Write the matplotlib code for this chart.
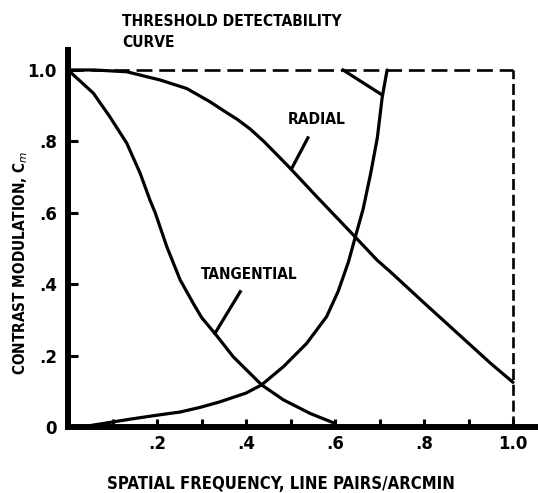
import matplotlib
matplotlib.use("Agg")
import matplotlib.pyplot as plt

# curve data (spatial frequency, contrast modulation)
radial_x = [0, 0.06, 0.132, 0.207, 0.267, 0.319, 0.357, 0.38, 0.409, 0.44, 0.47, 0.499, 0.559, 0.641, 0.694,
            0.724, 0.798, 0.873, 0.948, 1.0]
radial_y = [1.0, 1.0, 0.995, 0.972, 0.948, 0.911, 0.88, 0.862, 0.835, 0.80, 0.762, 0.725, 0.645, 0.538, 0.468,
            0.435, 0.35, 0.265, 0.18, 0.125]

tang_x = [0, 0.057, 0.094, 0.132, 0.162, 0.184, 0.196, 0.222, 0.252, 0.282, 0.30, 0.334, 0.371, 0.435, 0.484, 0.544, 0.596]
tang_y = [1.0, 0.935, 0.869, 0.795, 0.711, 0.636, 0.60, 0.505, 0.412, 0.345, 0.307, 0.256, 0.197, 0.118, 0.076, 0.038, 0.012]

thresh_x = [0.03, 0.08, 0.14, 0.194, 0.252, 0.297, 0.34, 0.371, 0.40, 0.435, 0.484, 0.536, 0.581, 0.607,
            0.630, 0.645, 0.663, 0.68, 0.695, 0.706, 0.717]
thresh_y = [0.0, 0.01, 0.022, 0.032, 0.042, 0.055, 0.07, 0.083, 0.095, 0.118, 0.169, 0.234, 0.309, 0.38,
            0.462, 0.53, 0.61, 0.71, 0.81, 0.924, 1.0]

# leader lines from labels to curves
radial_leader = ([0.539, 0.503], [0.81, 0.725])
tang_leader = ([0.387, 0.330], [0.379, 0.262])
thresh_leader = ([0.618, 0.706], [1.0, 0.93])

x_ticks = [0.2, 0.4, 0.6, 0.8, 1.0]
x_ticklabels = ['.2', '.4', '.6', '.8', '1.0']
x_minor = [0.1, 0.3, 0.5, 0.7, 0.9]
y_ticks = [0, 0.2, 0.4, 0.6, 0.8, 1.0]
y_ticklabels = ['0', '.2', '.4', '.6', '.8', '1.0']

lbl_font = dict(family='DejaVu Sans', stretch='condensed', weight='bold')

fig = plt.figure(figsize=(5.38, 4.93), dpi=100)
ax = fig.add_axes([68 / 538, 66 / 493, 470 / 538, 377 / 493])
ax.set_xlim(0, 1.056)
ax.set_ylim(0, 1.056)

lw = 2.3
ax.plot(radial_x, radial_y, color='black', lw=lw, solid_capstyle='round', solid_joinstyle='round')
ax.plot(tang_x, tang_y, color='black', lw=lw, solid_capstyle='round', solid_joinstyle='round')
ax.plot(thresh_x, thresh_y, color='black', lw=lw, solid_capstyle='round', solid_joinstyle='round')
for lx, ly in (radial_leader, tang_leader, thresh_leader):
    ax.plot(lx, ly, color='black', lw=lw)

# dashed limit box
ax.plot([0, 1.0], [1.0, 1.0], color='black', lw=1.9, linestyle=(0, (6, 2.6)))
ax.plot([1.0, 1.0], [0, 1.0], color='black', lw=1.9, linestyle=(0, (4.2, 1.8)))

ax.text(0.559, 0.86, 'RADIAL', ha='center', va='center', fontsize=11.2, **lbl_font)
ax.text(0.407, 0.426, 'TANGENTIAL', ha='center', va='center', fontsize=11, **lbl_font)
ax.text(0.121, 1.158, 'THRESHOLD DETECTABILITY\nCURVE', ha='left', va='top',
        fontsize=11.2, linespacing=1.55, clip_on=False, **lbl_font)

for side in ('top', 'right'):
    ax.spines[side].set_visible(False)
for side in ('left', 'bottom'):
    ax.spines[side].set_linewidth(4.3)
    ax.spines[side].set_capstyle('projecting')

ax.set_xticks(x_ticks)
ax.set_xticklabels(x_ticklabels)
ax.set_xticks(x_minor, minor=True)
ax.set_yticks(y_ticks)
ax.set_yticklabels(y_ticklabels)
ax.tick_params(axis='x', which='both', direction='in', length=6, width=2.2, pad=6)
ax.tick_params(axis='y', direction='in', length=7, width=2.2, pad=8)
for t in ax.get_xticklabels() + ax.get_yticklabels():
    t.set_fontsize(12)
    t.set_fontweight('bold')

ax.set_xlabel('SPATIAL FREQUENCY, LINE PAIRS/ARCMIN', fontsize=12, **lbl_font)
ax.set_ylabel('CONTRAST MODULATION, C$_m$', fontsize=11, **lbl_font)
ax.xaxis.set_label_coords((281 - 68) / 470, -(475 - 427) / 377)
ax.yaxis.set_label_coords(-(68 - 30) / 470, (427 - 263) / 377)

fig.savefig('out.png', dpi=100)
